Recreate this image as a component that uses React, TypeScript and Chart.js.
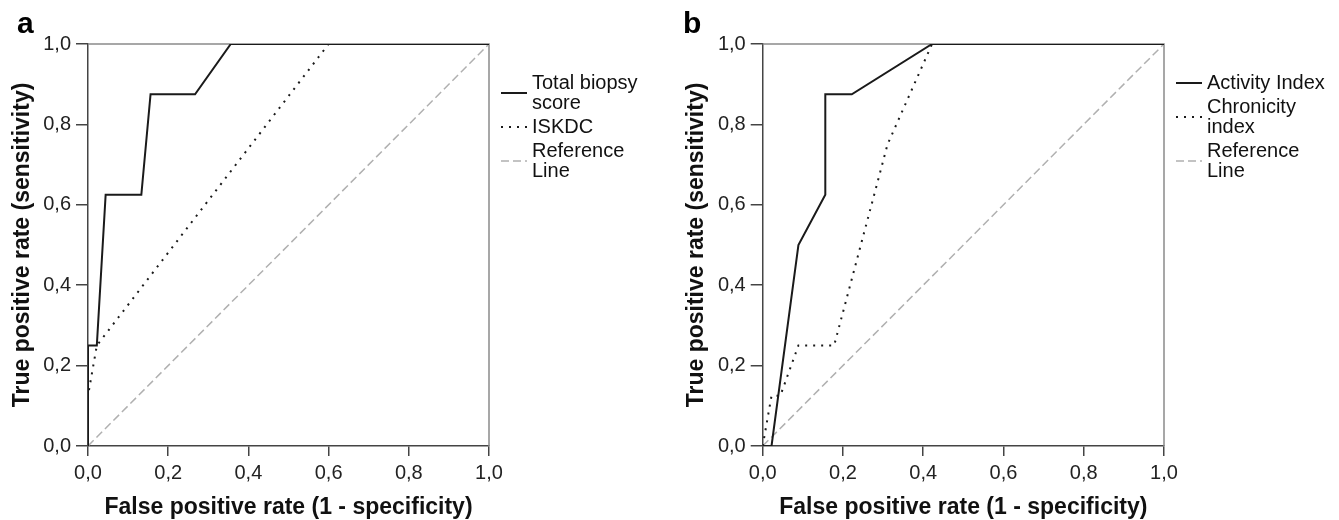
import React, { useEffect, useRef } from 'react';
import { Chart, registerables } from 'chart.js';

Chart.register(...registerables);

// ---- shared axis text ----
const tickValues = [0, 0.2, 0.4, 0.6, 0.8, 1.0];
const tickLabels = ['0,0', '0,2', '0,4', '0,6', '0,8', '1,0'];
const xTitle = 'False positive rate (1 - specificity)';
const yTitle = 'True positive rate (sensitivity)';

// ---- panel a ----
const totalBiopsyFpr = [0, 0, 0.022, 0.044, 0.133, 0.156, 0.267, 0.356, 1];
const totalBiopsyTpr = [0, 0.25, 0.25, 0.625, 0.625, 0.875, 0.875, 1, 1];
const iskdcFpr = [0, 0, 0.022, 0.6, 1];
const iskdcTpr = [0, 0.125, 0.25, 1, 1];
const legendA = [['Total biopsy', 'score'], ['ISKDC'], ['Reference', 'Line']];

// ---- panel b ----
const activityFpr = [0, 0.022, 0.089, 0.156, 0.156, 0.222, 0.422, 1];
const activityTpr = [0, 0, 0.5, 0.625, 0.875, 0.875, 1, 1];
const chronicityFpr = [0, 0.022, 0.044, 0.089, 0.178, 0.311, 0.422, 1];
const chronicityTpr = [0, 0.125, 0.125, 0.25, 0.25, 0.75, 1, 1];
const legendB = [['Activity Index'], ['Chronicity', 'index'], ['Reference', 'Line']];

// ---- reference diagonal ----
const referenceFpr = [0, 1];
const referenceTpr = [0, 1];

const FONT = '"Liberation Sans", Arial, sans-serif';

const toPoints = (xs: number[], ys: number[]) => xs.map((x, i) => ({ x, y: ys[i] }));

const decorPlugin = {
  id: 'decor',
  beforeDatasetsDraw(chart: any) {
    const { ctx, chartArea } = chart;
    const { left, right, top, bottom } = chartArea;
    ctx.save();
    ctx.strokeStyle = '#8a8a8a';
    ctx.lineWidth = 1.5;
    ctx.beginPath();
    ctx.moveTo(left, top);
    ctx.lineTo(right, top);
    ctx.lineTo(right, bottom);
    ctx.stroke();
    ctx.restore();
  },
  afterDraw(chart: any, _args: any, opts: any) {
    const { ctx, chartArea } = chart;
    const { right } = chartArea;
    ctx.save();
    // panel letter
    ctx.fillStyle = '#000';
    ctx.font = `bold 30px ${FONT}`;
    ctx.textBaseline = 'alphabetic';
    ctx.textAlign = 'left';
    ctx.fillText(opts.letter, opts.letterX, 33);

    // legend
    const labels: string[][] = opts.labels;
    const lineH = 20;
    const gap = 24;
    let y = 83;
    ctx.font = `20px ${FONT}`;
    ctx.textBaseline = 'middle';
    labels.forEach((lines, i) => {
      const ds = chart.data.datasets[i];
      const symY = y + ((lines.length - 1) * lineH) / 2;
      ctx.save();
      ctx.strokeStyle = ds.borderColor;
      ctx.lineWidth = ds.borderWidth;
      ctx.setLineDash(ds.borderDash || []);
      ctx.beginPath();
      ctx.moveTo(right + 12, symY);
      ctx.lineTo(right + 38, symY);
      ctx.stroke();
      ctx.restore();
      ctx.fillStyle = '#111';
      lines.forEach((t, j) => {
        ctx.fillText(t, right + 43, y + j * lineH);
      });
      y += (lines.length - 1) * lineH + gap;
    });
    ctx.restore();
  },
};

function axisOptions(isX: boolean, plotLeft: number) {
  return {
    type: 'linear',
    min: 0,
    max: 1,
    afterBuildTicks: (s: any) => {
      s.ticks = tickValues.map((v) => ({ value: v }));
    },
    afterFit: (s: any) => {
      if (isX) s.height = 74;
      else s.width = plotLeft;
    },
    ticks: {
      autoSkip: false,
      color: '#222',
      padding: 5,
      font: { family: FONT, size: 20 },
      callback: (_v: any, i: number) => tickLabels[i],
    },
    grid: {
      display: true,
      drawOnChartArea: false,
      drawTicks: true,
      tickLength: isX ? 10 : 12,
      color: '#444',
      lineWidth: 1.5,
    },
    border: { display: true, color: '#444', width: 1.5 },
    title: {
      display: true,
      text: isX ? xTitle : yTitle,
      color: '#111',
      font: { family: FONT, size: 23, weight: 'bold', lineHeight: 1 },
      padding: isX ? { top: 0, bottom: 1 } : { top: 11, bottom: 0 },
    },
  };
}

interface PanelProps {
  width: number;
  left: number;
  plotLeft: number;
  padRight: number;
  letter: string;
  letterX: number;
  labels: string[][];
  curves: { fpr: number[]; tpr: number[]; kind: 'solid' | 'dotted' }[];
}

function Panel(props: PanelProps) {
  const ref = useRef<HTMLCanvasElement | null>(null);
  useEffect(() => {
    if (!ref.current) return;
    const datasets: any[] = props.curves.map((c) => ({
      data: toPoints(c.fpr, c.tpr),
      showLine: true,
      pointRadius: 0,
      borderColor: '#1a1a1a',
      borderWidth: 2,
      borderDash: c.kind === 'solid' ? [] : [2, 6],
      borderCapStyle: 'butt',
      tension: 0,
      fill: false,
    }));
    datasets.push({
      data: toPoints(referenceFpr, referenceTpr),
      showLine: true,
      pointRadius: 0,
      borderColor: '#b0b0b0',
      borderWidth: 1.5,
      borderDash: [8, 4],
      tension: 0,
      fill: false,
    });
    const chart = new Chart(ref.current, {
      type: 'scatter',
      data: { datasets },
      options: {
        responsive: false,
        animation: false,
        devicePixelRatio: 1,
        layout: { padding: { left: 0, top: 44, right: props.padRight, bottom: 0 } },
        plugins: {
          legend: { display: false },
          tooltip: { enabled: false },
          decor: { letter: props.letter, letterX: props.letterX, labels: props.labels },
        } as any,
        scales: {
          x: axisOptions(true, props.plotLeft) as any,
          y: axisOptions(false, props.plotLeft) as any,
        },
      },
      plugins: [decorPlugin as any],
    });
    return () => chart.destroy();
  }, []);
  return (
    <canvas
      ref={ref}
      width={props.width}
      height={520}
      style={{ position: 'absolute', left: props.left, top: 0, width: props.width, height: 520 }}
    />
  );
}

export default function App() {
  return (
    <div style={{ position: 'absolute', left: 0, top: 0, width: 1339, height: 520, background: '#fff' }}>
      <Panel
        width={670}
        left={0}
        plotLeft={88}
        padRight={181}
        letter="a"
        letterX={17}
        labels={legendA}
        curves={[
          { fpr: totalBiopsyFpr, tpr: totalBiopsyTpr, kind: 'solid' },
          { fpr: iskdcFpr, tpr: iskdcTpr, kind: 'dotted' },
        ]}
      />
      <Panel
        width={665}
        left={674}
        plotLeft={88.7}
        padRight={175}
        letter="b"
        letterX={9}
        labels={legendB}
        curves={[
          { fpr: activityFpr, tpr: activityTpr, kind: 'solid' },
          { fpr: chronicityFpr, tpr: chronicityTpr, kind: 'dotted' },
        ]}
      />
    </div>
  );
}
